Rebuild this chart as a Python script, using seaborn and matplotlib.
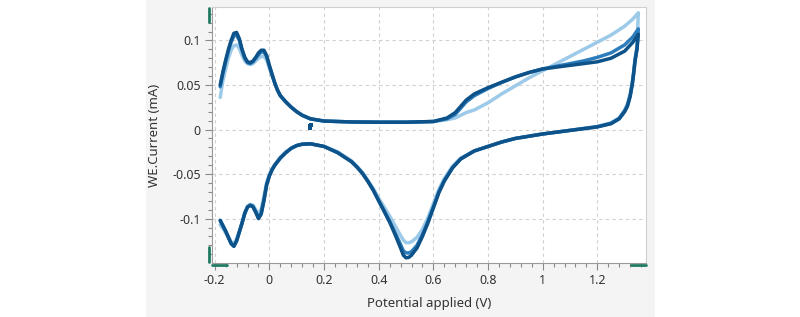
import matplotlib
matplotlib.use("Agg")
import matplotlib.pyplot as plt
from matplotlib.patches import Rectangle
from matplotlib.ticker import MultipleLocator, FuncFormatter
import pandas as pd
import seaborn as sns

#%% Data (V, mA)
anodic_v = [-0.18, -0.17, -0.16, -0.15, -0.14, -0.13, -0.12, -0.11, -0.10, -0.09,
            -0.08, -0.07, -0.06, -0.05, -0.04, -0.03, -0.02, -0.01, 0.00, 0.01,
            0.02, 0.03, 0.04, 0.06, 0.08, 0.10, 0.12, 0.15, 0.20, 0.30,
            0.40, 0.50, 0.60, 0.65, 0.68, 0.70, 0.72, 0.75, 0.80, 0.85,
            0.90, 0.95, 1.00, 1.05, 1.10, 1.15, 1.20, 1.25, 1.30, 1.33, 1.35]

anodic_light = [0.036, 0.055, 0.068, 0.080, 0.089, 0.094, 0.095, 0.091, 0.083, 0.077,
                0.074, 0.073, 0.074, 0.077, 0.080, 0.082, 0.082, 0.078, 0.069, 0.060,
                0.051, 0.044, 0.038, 0.031, 0.025, 0.020, 0.016, 0.012, 0.0095, 0.0085,
                0.0082, 0.0082, 0.009, 0.011, 0.013, 0.016, 0.019, 0.022, 0.030, 0.040,
                0.049, 0.058, 0.066, 0.074, 0.082, 0.090, 0.098, 0.106, 0.116, 0.124, 0.131]

anodic_medium = [0.048, 0.063, 0.076, 0.088, 0.098, 0.105, 0.106, 0.100, 0.089, 0.080,
                 0.075, 0.074, 0.076, 0.080, 0.084, 0.087, 0.087, 0.082, 0.071, 0.061,
                 0.052, 0.044, 0.038, 0.031, 0.025, 0.020, 0.016, 0.012, 0.0095, 0.0085,
                 0.0082, 0.0082, 0.009, 0.012, 0.017, 0.024, 0.031, 0.038, 0.046, 0.053,
                 0.059, 0.064, 0.068, 0.071, 0.074, 0.077, 0.081, 0.086, 0.095, 0.104, 0.113]

anodic_dark = [0.050, 0.065, 0.078, 0.090, 0.100, 0.108, 0.109, 0.102, 0.090, 0.081,
               0.076, 0.075, 0.077, 0.081, 0.086, 0.089, 0.089, 0.083, 0.072, 0.062,
               0.052, 0.044, 0.038, 0.031, 0.025, 0.020, 0.016, 0.012, 0.0095, 0.0085,
               0.0082, 0.0082, 0.009, 0.013, 0.019, 0.026, 0.033, 0.040, 0.047, 0.053,
               0.059, 0.064, 0.068, 0.070, 0.072, 0.074, 0.076, 0.080, 0.088, 0.098, 0.107]

cathodic_v = [1.345, 1.338, 1.333, 1.328, 1.32, 1.31, 1.30, 1.28, 1.25, 1.20,
              1.10, 1.00, 0.90, 0.85, 0.80, 0.75, 0.70, 0.67, 0.64, 0.62,
              0.60, 0.58, 0.56, 0.54, 0.52, 0.51, 0.50, 0.49, 0.48, 0.46,
              0.44, 0.42, 0.40, 0.38, 0.36, 0.34, 0.32, 0.30, 0.25, 0.20,
              0.15, 0.12, 0.10, 0.08, 0.06, 0.04, 0.02, 0.01, 0.00, -0.01,
              -0.02, -0.03, -0.04, -0.05, -0.06, -0.07, -0.08, -0.09, -0.10, -0.11,
              -0.12, -0.13, -0.14, -0.15, -0.16, -0.17, -0.18]

cathodic_light = [0.093, 0.080, 0.066, 0.054, 0.040, 0.029, 0.022, 0.013, 0.0075, 0.0035,
                  -0.0008, -0.005, -0.010, -0.014, -0.019, -0.024, -0.032, -0.041, -0.055, -0.067,
                  -0.083, -0.099, -0.112, -0.121, -0.126, -0.127, -0.127, -0.124, -0.119, -0.108,
                  -0.097, -0.087, -0.077, -0.066, -0.057, -0.048, -0.041, -0.035, -0.025, -0.019,
                  -0.016, -0.0165, -0.018, -0.021, -0.025, -0.031, -0.039, -0.044, -0.050, -0.059,
                  -0.075, -0.089, -0.095, -0.090, -0.085, -0.084, -0.086, -0.093, -0.104, -0.114,
                  -0.123, -0.128, -0.126, -0.121, -0.116, -0.111, -0.107]

cathodic_medium = [0.091, 0.078, 0.064, 0.052, 0.038, 0.027, 0.021, 0.0125, 0.007, 0.003,
                   -0.001, -0.005, -0.010, -0.014, -0.019, -0.024, -0.033, -0.043, -0.057, -0.070,
                   -0.087, -0.103, -0.118, -0.130, -0.137, -0.1385, -0.1385, -0.136, -0.129, -0.116,
                   -0.103, -0.091, -0.080, -0.068, -0.058, -0.049, -0.042, -0.036, -0.026, -0.019,
                   -0.016, -0.0165, -0.018, -0.021, -0.026, -0.032, -0.040, -0.045, -0.052, -0.062,
                   -0.079, -0.094, -0.099, -0.092, -0.086, -0.085, -0.087, -0.094, -0.105, -0.115,
                   -0.125, -0.131, -0.128, -0.121, -0.114, -0.108, -0.102]

cathodic_dark = [0.090, 0.077, 0.063, 0.051, 0.037, 0.026, 0.020, 0.012, 0.0065, 0.003,
                 -0.001, -0.005, -0.010, -0.014, -0.019, -0.024, -0.033, -0.043, -0.058, -0.071,
                 -0.088, -0.105, -0.120, -0.133, -0.141, -0.1435, -0.144, -0.141, -0.133, -0.118,
                 -0.104, -0.092, -0.080, -0.068, -0.058, -0.049, -0.042, -0.036, -0.026, -0.019,
                 -0.016, -0.0165, -0.018, -0.021, -0.026, -0.032, -0.040, -0.045, -0.052, -0.062,
                 -0.080, -0.095, -0.100, -0.093, -0.087, -0.085, -0.087, -0.094, -0.105, -0.115,
                 -0.125, -0.131, -0.128, -0.121, -0.114, -0.108, -0.102]

# first points of the run, before the scan gets going
start_v = [0.15, 0.15, 0.151]
start_i = [0.002, 0.0035, 0.005]

cycles = ['1', '2', '3']
cycle_colors = ['#9ccae8', '#2d7dbd', '#0d5289']

#%% Build a long table, one closed path per cycle
frames = []
for name, an, ca in zip(cycles,
                        [anodic_light, anodic_medium, anodic_dark],
                        [cathodic_light, cathodic_medium, cathodic_dark]):
    frames.append(pd.DataFrame({'potential': anodic_v + cathodic_v,
                                'current': an + ca, 'cycle': name}))
data = pd.concat(frames, ignore_index=True)

#%% Figure
sns.set_style("white")
plt.rcParams['font.family'] = ['Noto Sans', 'DejaVu Sans']
plt.rcParams['axes.unicode_minus'] = False

fig = plt.figure(figsize=(8, 3.17), dpi=100, facecolor='white')

# grey panel behind the chart
bg = fig.add_axes([0, 0, 1, 1], zorder=-10)
bg.axis('off')
bg.add_patch(Rectangle((146 / 800, 0), (655 - 146) / 800, 1, transform=bg.transAxes,
                       facecolor='#f4f4f4', edgecolor='none'))

ax = fig.add_axes([212 / 800, 1 - 263 / 317, (646 - 212) / 800, (263 - 7) / 317], zorder=1)
ax.set_facecolor('white')

# one trace per cycle, light first so the latest cycle sits on top
for name, color in zip(cycles, cycle_colors):
    d = data[data['cycle'] == name]
    sns.lineplot(x=d['potential'].values, y=d['current'].values, sort=False,
                 estimator=None, color=color, linewidth=2.5, ax=ax, zorder=3)
sns.scatterplot(x=start_v, y=start_i, color=cycle_colors[2], marker='s', s=5,
                linewidth=0, ax=ax, zorder=4)

ax.set_xlim(-0.21, 1.378)
ax.set_ylim(-0.1498, 0.1375)

ax.xaxis.set_major_locator(MultipleLocator(0.2))
ax.xaxis.set_minor_locator(MultipleLocator(0.04))
ax.yaxis.set_major_locator(MultipleLocator(0.05))
ax.yaxis.set_minor_locator(MultipleLocator(0.01))
fmt = FuncFormatter(lambda v, p: '{:g}'.format(round(v, 3)))
ax.xaxis.set_major_formatter(fmt)
ax.yaxis.set_major_formatter(fmt)

ax.grid(True, which='major', color='#d0d0d0', linestyle=(0, (3, 3)), linewidth=0.8)
ax.tick_params(which='major', direction='out', length=5, width=0.8, color='#8a8a8a',
               labelsize=9, labelcolor='#333333', bottom=True, left=True, pad=3)
ax.tick_params(which='minor', direction='out', length=3, width=0.8, color='#8a8a8a',
               bottom=True, left=True)
for side in ['top', 'right']:
    ax.spines[side].set_color('#cfcfcf')
    ax.spines[side].set_linewidth(0.8)
for side in ['left', 'bottom']:
    ax.spines[side].set_color('#9a9a9a')
    ax.spines[side].set_linewidth(0.8)

ax.set_xlabel('Potential applied (V)', fontsize=9.5, color='#333333', labelpad=7)
ax.set_ylabel('WE.Current (mA)', fontsize=9.5, color='#333333', labelpad=8)

# green range markers at the ends of the axes
green = '#1f7a63'
tr = ax.transAxes
ax.plot([-0.007, -0.007], [0.94, 0.996], color=green, lw=2, transform=tr, clip_on=False)
ax.plot([-0.007, -0.007], [0.004, 0.062], color=green, lw=2, transform=tr, clip_on=False)
ax.plot([0.0, 0.035], [-0.009, -0.009], color=green, lw=2, transform=tr, clip_on=False)
ax.plot([0.965, 1.0], [-0.009, -0.009], color=green, lw=2, transform=tr, clip_on=False)

fig.savefig('out.png', dpi=100, facecolor='white')
